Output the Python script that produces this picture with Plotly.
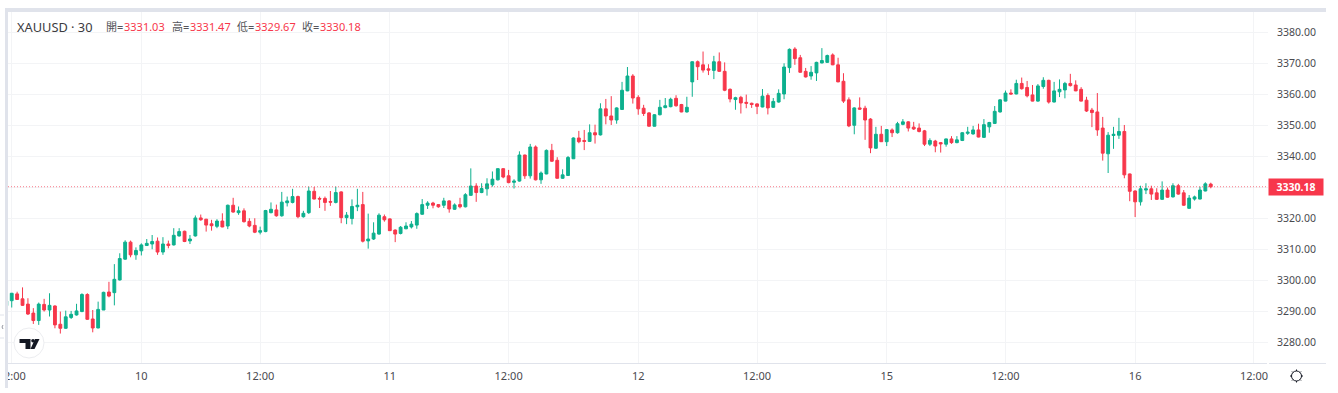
import plotly.graph_objects as go

# Market data: 30-minute XAUUSD candles
bar_index = list(range(-25, 199))

opens = [
3291.8,3293.4,3295.6,3294.0,3292.3,3289.4,3287.0,3292.2,3290.4,3291.7,
3285.8,3284.5,3288.0,3288.8,3289.9,3295.4,3287.5,3284.6,3290.4,3296.2,
3296.0,3300.1,3306.8,3312.3,3308.2,
3309.5,3311.2,3311.7,3312.6,3309.1,3311.7,3311.4,3314.3,3315.8,3312.7,
3314.3,3320.1,3319.7,3318.2,3317.4,3319.1,3317.5,3324.2,3321.8,3322.4,
3319.0,3317.7,3315.5,3315.7,3321.8,3322.7,3320.8,3325.0,3325.1,3327.0,
3320.5,3321.8,3328.7,3326.4,3326.4,3325.4,3325.1,3328.5,3320.2,3319.9,
3323.7,3324.4,3312.7,3313.3,3314.9,3320.5,3319.8,3316.2,3315.1,3316.6,
3317.2,3317.8,3321.3,3324.2,3324.9,3324.4,3324.2,3325.6,3322.9,3324.4,
3323.7,3327.4,3330.4,3328.3,3329.5,3330.8,3332.4,3336.0,3333.7,3331.6,
3332.0,3340.4,3333.7,3343.0,3332.4,3334.3,3341.9,3338.7,3332.9,3333.8,
3339.2,3345.9,3345.1,3344.8,3347.6,3346.9,3355.3,3353.0,3351.7,3355.1,
3361.1,3365.9,3359.0,3355.5,3354.0,3349.7,3353.4,3355.7,3356.0,3358.7,
3356.7,3354.3,3364.0,3370.5,3369.5,3368.2,3367.7,3370.5,3367.4,3361.6,
3358.3,3359.0,3357.4,3357.1,3356.9,3355.9,3359.6,3355.8,3357.5,3360.1,
3368.6,3374.6,3371.8,3367.4,3365.9,3366.9,3370.1,3370.3,3372.7,3369.5,
3364.2,3358.2,3350.0,3355.6,3355.5,3352.0,3342.6,3347.1,3344.7,3348.5,
3347.6,3350.3,3351.1,3349.4,3349.1,3348.2,3343.9,3344.9,3344.4,3343.9,
3345.6,3344.4,3345.1,3347.4,3347.2,3348.5,3346.1,3349.5,3350.6,3354.3,
3357.8,3360.4,3360.1,3363.5,3362.2,3359.8,3357.8,3362.5,3364.5,3357.5,
3360.8,3361.4,3363.5,3363.0,3361.6,3358.1,3354.9,3354.3,3349.1,3340.8,
3346.7,3346.8,3348.0,3334.3,3328.8,3325.3,3329.1,3329.5,3328.2,3326.1,
3329.1,3326.9,3330.5,3328.2,3323.2,3326.2,3326.2,3328.8,3331.03]

highs = [
3293.5,3295.9,3296.3,3297.7,3294.2,3291.0,3292.8,3294.0,3295.8,3291.9,
3289.9,3290.2,3290.1,3292.4,3295.8,3295.8,3290.4,3293.1,3296.3,3299.5,
3305.2,3308.7,3312.9,3312.8,3310.6,
3311.9,3313.3,3314.6,3313.8,3313.9,3312.8,3316.8,3316.8,3316.0,3314.6,
3320.9,3321.2,3319.8,3319.5,3319.7,3321.6,3324.4,3326.6,3323.8,3323.2,
3320.0,3320.0,3317.3,3322.7,3325.1,3324.4,3328.5,3327.0,3329.5,3327.3,
3322.4,3330.2,3330.1,3327.0,3327.0,3328.8,3330.2,3328.7,3322.0,3326.1,
3329.5,3328.5,3321.5,3318.7,3321.6,3321.2,3320.0,3316.4,3317.5,3318.7,
3319.1,3321.9,3326.2,3325.5,3325.3,3324.6,3326.6,3325.8,3324.8,3326.6,
3328.1,3336.1,3331.3,3331.3,3332.9,3335.1,3336.1,3336.1,3335.6,3332.6,
3341.6,3340.5,3344.0,3343.5,3335.1,3342.2,3344.0,3339.7,3335.8,3340.1,
3346.1,3348.2,3348.5,3350.3,3350.2,3357.1,3358.5,3359.4,3355.8,3364.0,
3368.8,3366.5,3359.7,3356.6,3354.2,3353.6,3358.2,3358.8,3358.9,3359.7,
3356.9,3359.2,3370.6,3370.9,3373.8,3369.7,3372.4,3373.5,3370.3,3361.9,
3359.2,3359.5,3359.9,3357.3,3357.1,3361.7,3360.3,3358.8,3361.6,3370.0,
3374.8,3375.2,3372.7,3368.5,3369.1,3370.5,3374.9,3372.8,3373.2,3371.8,
3366.8,3359.0,3355.8,3359.0,3356.3,3352.3,3349.5,3349.8,3348.8,3349.0,
3351.1,3352.0,3351.3,3351.1,3350.6,3348.5,3345.8,3345.3,3344.6,3345.7,
3346.5,3346.5,3347.8,3349.5,3349.8,3350.5,3352.0,3351.1,3356.2,3358.4,
3361.2,3361.6,3364.7,3365.4,3364.3,3363.0,3363.3,3365.5,3364.7,3364.0,
3364.8,3364.0,3366.6,3364.5,3362.3,3359.2,3355.6,3360.4,3352.7,3347.8,
3349.5,3352.4,3350.1,3334.4,3329.0,3330.5,3331.3,3330.5,3329.7,3331.9,
3329.9,3331.3,3331.1,3329.1,3327.5,3327.3,3330.2,3331.6,3331.47]

lows = [
3291.5,3291.2,3293.7,3291.7,3288.8,3285.9,3285.6,3289.9,3288.3,3284.5,
3282.8,3284.3,3287.5,3288.6,3289.7,3287.2,3283.2,3284.5,3290.4,3294.5,
3291.9,3299.9,3306.6,3307.4,3306.6,
3308.0,3311.1,3310.0,3308.2,3308.2,3310.3,3311.2,3314.1,3312.3,3311.7,
3314.1,3319.2,3315.7,3316.0,3316.8,3317.1,3316.5,3321.8,3321.1,3318.6,
3317.1,3315.2,3314.8,3315.5,3321.6,3320.5,3320.5,3323.8,3324.8,3320.0,
3320.2,3321.4,3326.1,3323.3,3322.4,3324.0,3324.8,3318.4,3318.1,3318.0,
3322.3,3312.2,3310.2,3313.0,3314.7,3318.9,3315.9,3312.3,3314.8,3316.5,
3316.7,3316.6,3321.1,3323.0,3323.2,3323.4,3323.3,3321.8,3322.7,3323.2,
3323.5,3327.3,3325.3,3328.1,3327.3,3330.2,3332.2,3332.9,3331.3,3329.6,
3331.8,3332.7,3332.8,3332.2,3331.1,3334.2,3338.2,3332.8,3332.7,3333.7,
3339.1,3344.2,3342.0,3344.6,3344.1,3346.7,3350.3,3350.1,3350.5,3355.0,
3361.0,3357.0,3353.4,3353.0,3349.6,3349.6,3353.2,3355.5,3355.8,3356.0,
3354.2,3354.1,3359.2,3364.6,3367.0,3366.2,3364.9,3367.2,3361.0,3357.4,
3355.0,3353.8,3355.5,3355.6,3353.6,3355.8,3353.5,3355.6,3357.3,3358.4,
3366.9,3369.5,3367.0,3365.4,3364.7,3364.3,3370.0,3370.1,3369.4,3363.9,
3357.2,3349.4,3347.1,3355.0,3345.3,3341.0,3342.4,3344.6,3343.3,3346.2,
3347.3,3350.0,3348.0,3348.5,3347.7,3343.3,3343.3,3341.3,3341.2,3343.1,
3344.0,3344.2,3344.9,3346.9,3347.0,3346.1,3345.9,3347.6,3350.4,3354.1,
3357.7,3359.9,3360.0,3361.5,3359.0,3357.7,3357.6,3361.8,3357.0,3357.4,
3359.1,3358.7,3362.5,3361.0,3357.7,3354.3,3349.4,3346.6,3338.6,3334.6,
3342.4,3345.6,3332.9,3325.5,3320.4,3324.1,3327.8,3325.9,3325.9,3326.0,
3326.6,3326.7,3327.6,3324.0,3323.1,3325.7,3326.1,3328.7,3329.67]

closes = [
3293.3,3295.8,3293.8,3291.9,3289.1,3287.0,3292.3,3290.4,3291.9,3285.6,
3284.5,3288.2,3289.0,3290.1,3295.4,3287.4,3284.6,3290.6,3296.1,3294.9,
3300.3,3307.0,3312.3,3308.2,3309.6,
3311.4,3311.9,3312.5,3309.1,3311.7,3311.2,3314.5,3315.7,3312.5,3313.3,
3320.1,3319.5,3317.8,3317.6,3319.1,3317.2,3324.2,3322.0,3322.4,3318.9,
3317.5,3315.5,3316.0,3322.5,3322.9,3320.8,3325.2,3325.6,3327.0,3320.5,
3321.6,3328.8,3326.2,3326.2,3325.1,3325.2,3328.3,3320.2,3321.0,3323.8,
3324.2,3312.6,3313.3,3315.2,3321.0,3319.5,3316.0,3314.9,3317.1,3317.5,
3318.1,3321.5,3324.4,3324.9,3324.2,3323.7,3325.6,3323.0,3324.3,3323.7,
3327.6,3330.4,3328.3,3329.6,3331.1,3332.6,3336.0,3333.3,3331.5,3332.0,
3340.4,3333.7,3343.0,3332.4,3334.6,3341.9,3338.4,3332.9,3334.0,3339.6,
3345.9,3344.7,3344.8,3347.6,3346.9,3355.3,3353.0,3351.7,3355.6,3361.3,
3365.9,3358.8,3355.3,3353.8,3349.7,3353.4,3355.8,3356.3,3358.4,3356.3,
3354.3,3355.8,3370.5,3368.9,3367.8,3367.8,3370.5,3367.4,3361.3,3358.5,
3358.9,3357.2,3357.1,3356.7,3356.1,3359.4,3355.6,3357.7,3360.3,3368.8,
3374.5,3371.5,3367.1,3365.6,3367.1,3370.3,3370.9,3372.5,3369.5,3364.0,
3357.8,3349.8,3355.6,3355.2,3351.7,3342.7,3347.1,3344.7,3348.6,3347.6,
3350.5,3351.1,3349.1,3348.8,3348.0,3343.9,3345.1,3343.3,3344.0,3345.6,
3344.4,3345.3,3347.6,3347.8,3348.5,3346.2,3350.2,3350.9,3354.5,3358.2,
3360.4,3360.1,3363.5,3361.8,3359.5,3357.8,3362.7,3364.5,3357.5,3361.1,
3361.6,3363.5,3362.8,3361.1,3357.8,3354.6,3354.1,3348.5,3341.0,3346.8,
3347.1,3348.0,3334.0,3328.7,3325.3,3329.5,3329.5,3327.8,3326.1,3329.1,
3326.8,3330.5,3327.8,3324.2,3326.5,3326.9,3329.1,3331.1,3330.18]

assert len(opens) == len(highs) == len(lows) == len(closes) == len(bar_index)

symbol_label = "XAUUSD · 30"
legend_fields = ["開=", "高=", "低=", "收="]
legend_values = ["3331.03", "3331.47", "3329.67", "3330.18"]
last_price = 3330.18

x_tick_positions = [-24, 0, 22, 46, 68, 92, 114, 138, 160, 184, 206]
x_tick_labels = ["12:00", "10", "12:00", "11", "12:00", "12", "12:00", "15", "12:00", "16", "12:00"]
y_tick_values = [3280, 3290, 3300, 3310, 3320, 3330, 3340, 3350, 3360, 3370, 3380]
# The 3330.00 label sits behind the price badge in the reference
y_tick_labels = ["3280.00", "3290.00", "3300.00", "3310.00", "3320.00", "",
                 "3340.00", "3350.00", "3360.00", "3370.00", "3380.00"]

UP = "#0DB08E"
DOWN = "#F7374B"
GRID = "#F3F4F6"
BORDER = "#E0E3EB"
TEXT = "#4A4A4F"
FONT = "Noto Sans, Noto Sans CJK TC, sans-serif"

W, H = 1338, 393
L, R, T, B = 8, 1268, 12, 363


def px(x):
    return (x - L) / (R - L)


def py(y):
    return (B - y) / (B - T)


def paper_rect(x0, y0, x1, y1, fill, layer="above"):
    return dict(type="rect", xref="paper", yref="paper", x0=px(x0), x1=px(x1),
                y0=py(y1), y1=py(y0), fillcolor=fill, line_width=0, layer=layer)


def paper_line(x0, y0, x1, y1, color, width=1):
    return dict(type="line", xref="paper", yref="paper", x0=px(x0), x1=px(x1),
                y0=py(y0), y1=py(y1), line=dict(color=color, width=width), layer="above")


def paper_circle(cx, cy, r, fill, color, width=1):
    return dict(type="circle", xref="paper", yref="paper", x0=px(cx - r), x1=px(cx + r),
                y0=py(cy + r), y1=py(cy - r), fillcolor=fill,
                line=dict(color=color, width=width), layer="above")


def paper_poly(points, fill):
    shape = "M " + " L ".join(f"{px(a):.5f} {py(b):.5f}" for a, b in points) + " Z"
    return dict(type="path", xref="paper", yref="paper", path=shape, fillcolor=fill,
                line_width=0, layer="above")


def label(x, y, text, color, size=11.5, anchor="left", **kw):
    return dict(x=px(x), y=py(y), xref="paper", yref="paper", text=text, showarrow=False,
                xanchor=anchor, yanchor="middle", align=anchor if anchor != "middle" else "center",
                font=dict(family=FONT, size=size, color=color), **kw)


fig = go.Figure(go.Candlestick(
    x=bar_index, open=opens, high=highs, low=lows, close=closes,
    increasing=dict(line=dict(color=UP, width=1), fillcolor=UP),
    decreasing=dict(line=dict(color=DOWN, width=1), fillcolor=DOWN),
    whiskerwidth=0,
    showlegend=False,
))

shapes = [
    # current price line
    dict(type="line", xref="paper", yref="y", x0=0, x1=1, y0=last_price, y1=last_price,
         line=dict(color="rgba(247,55,75,0.65)", width=1, dash="1px 2px"), layer="above"),
    # page frame around the chart
    paper_rect(0, 0, 5, 393, "#FFFFFF"),
    paper_rect(5, 12, 8, 388, BORDER),
    paper_rect(5, 8, 1326, 12, BORDER),
    paper_line(8, 363.5, 1267, 363.5, BORDER),
    paper_line(1269, 363.5, 1326, 363.5, BORDER),
    paper_rect(0, 315, 5, 338, "#FFFFFF"),
    paper_line(0, 315, 4, 315, BORDER),
    paper_line(0, 338, 4, 338, BORDER),
    paper_line(3, 325, 2, 327, "#9598A1"),
    paper_line(2, 327, 3, 329, "#9598A1"),
    # chart logo
    paper_circle(29, 343, 15, "#FFFFFF", "#ECEDF0", 1),
    paper_poly([(19.5, 339), (30.5, 339), (30.5, 349), (25.5, 349), (25.5, 343), (19.5, 343)], "#131722"),
    paper_circle(33, 340.7, 1.8, "#131722", "#131722", 0),
    paper_poly([(35, 339), (39.5, 339), (34.5, 349), (30.5, 349)], "#131722"),
    # settings icon
    paper_circle(1296.5, 376, 5, "#FFFFFF", "#131722", 1),
    paper_line(1296.5, 369.5, 1296.5, 371, "#131722"),
    paper_line(1296.5, 381, 1296.5, 382.5, "#131722"),
    paper_line(1290, 376, 1291.5, 376, "#131722"),
    paper_line(1301.5, 376, 1303, 376, "#131722"),
    paper_line(1292, 371.5, 1293, 372.5, "#131722"),
    paper_line(1300, 379.5, 1301, 380.5, "#131722"),
    paper_line(1292, 380.5, 1293, 379.5, "#131722"),
    paper_line(1300, 372.5, 1301, 371.5, "#131722"),
]

annotations = [label(15, 27, symbol_label, "#3B3B40", 12.8)]
for xf, xv, field, value in zip([103.5, 169.5, 234.5, 299.5], [122, 187.5, 252.5, 317.5],
                                legend_fields, legend_values):
    annotations.append(label(xf, 27, field, "#55555A", 11))
    annotations.append(label(xv, 27, value, DOWN, 11))

annotations.append(dict(
    x=1.0, y=last_price, xref="paper", yref="y", xanchor="left", yanchor="middle",
    text="<b>3330.18</b>", showarrow=False, width=54, height=16, bgcolor="#F7374B", align="center",
    font=dict(family=FONT, size=10.5, color="#FFFFFF"), borderpad=0,
))

fig.update_layout(
    width=W, height=H,
    margin=dict(l=L, r=W - R, t=T, b=H - B, autoexpand=False),
    paper_bgcolor="#FFFFFF", plot_bgcolor="#FFFFFF",
    boxgap=0.25,
    shapes=shapes, annotations=annotations,
    hovermode=False,
    xaxis=dict(
        range=[-24.69, 208.6], rangeslider=dict(visible=False),
        tickmode="array", tickvals=x_tick_positions, ticktext=x_tick_labels,
        showgrid=True, gridcolor=GRID, gridwidth=1, zeroline=False, showline=False,
        ticks="outside", ticklen=3, tickcolor="#FFFFFF", ticklabeloverflow="allow",
        tickfont=dict(family=FONT, size=11, color=TEXT),
    ),
    yaxis=dict(
        side="right", range=[3273.3, 3386.55],
        tickmode="array", tickvals=y_tick_values, ticktext=y_tick_labels,
        showgrid=True, gridcolor=GRID, gridwidth=1, zeroline=False, showline=False,
        ticks="outside", ticklen=6, tickcolor="#FFFFFF",
        tickfont=dict(family=FONT, size=10.5, color=TEXT),
    ),
)

fig.write_html("out.html", post_script="document.body.style.margin='0';",
               config=dict(displayModeBar=False))
